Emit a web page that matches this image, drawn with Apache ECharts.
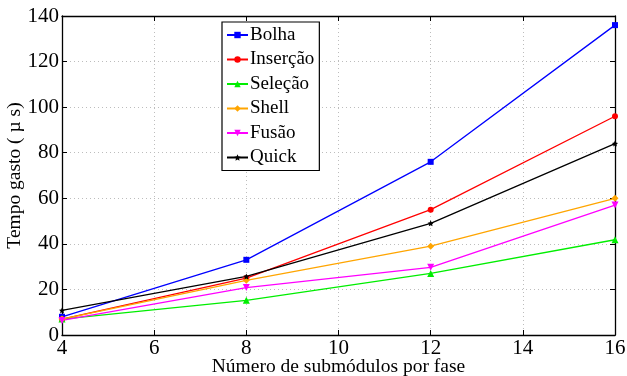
<!DOCTYPE html>
<html>
<head>
<meta charset="utf-8">
<script src="https://cdn.jsdelivr.net/npm/echarts@6/dist/echarts.min.js"></script>
<style>
  html, body { margin: 0; padding: 0; background: #fff; }
  #chart { width: 627px; height: 376px; }
</style>
</head>
<body>
<div id="chart"></div>
<script>
// Submodules per phase (x) and measured time in microseconds for each sort
const submodulos = [4, 8, 12, 16];
const bolha    = [8, 33, 76, 136];
const insercao = [7, 25, 55, 96];
const selecao  = [7, 15.2, 27, 41.8];
const shell    = [7, 24, 39, 60];
const fusao    = [6.4, 20.8, 29.7, 57];
const quick    = [10.8, 25.7, 49, 84];

const xTicks = { min: 4, max: 16, interval: 2 };
const yTicks = { min: 0, max: 140, interval: 20 };

const font = 'Liberation Serif, Times New Roman, serif';

const starPath = 'path://M0,-10 L2.9,-4 L9.5,-3.1 L4.7,1.5 L5.9,8.1 L0,5 L-5.9,8.1 L-4.7,1.5 L-9.5,-3.1 L-2.9,-4 Z';

function pts(vals) {
  return submodulos.map((x, i) => [x, vals[i]]);
}

function mk(name, vals, color, symbol, size, rotate) {
  return {
    name: name,
    type: 'line',
    data: pts(vals),
    symbol: symbol,
    symbolSize: size,
    symbolRotate: rotate || 0,
    showAllSymbol: true,
    lineStyle: { color: color, width: 1.3 },
    itemStyle: { color: color },
    emphasis: { disabled: true },
    animation: false,
    z: 3
  };
}

const chart = echarts.init(document.getElementById('chart'), null, { renderer: 'canvas' });

const tickStyle = { show: true, inside: true, length: 5, lineStyle: { color: '#000', width: 1 } };
const gridLine = { show: true, lineStyle: { color: '#bdbdbd', type: [1, 3], width: 1 } };

chart.setOption({
  backgroundColor: '#fff',
  animation: false,
  grid: { left: 62, right: 12, top: 16, bottom: 41, containLabel: false, outerBoundsMode: 'none' },
  legend: {
    orient: 'vertical',
    left: 222,
    top: 22,
    padding: [3, 5, 3, 4],
    itemGap: 4.5,
    itemWidth: 21,
    itemHeight: 8,
    backgroundColor: '#fff',
    borderColor: '#000',
    borderWidth: 1.2,
    textStyle: { fontFamily: font, fontSize: 19, lineHeight: 20, color: '#000', padding: [0, 0, 0, -3] },
    data: ['Bolha', 'Inserção', 'Seleção', 'Shell', 'Fusão', 'Quick']
  },
  xAxis: [
    {
      type: 'value',
      min: xTicks.min, max: xTicks.max, interval: xTicks.interval,
      name: 'Número de submódulos por fase',
      nameLocation: 'middle',
      nameGap: 22,
      nameMoveOverlap: false,
      nameTextStyle: { fontFamily: font, fontSize: 19.5, color: '#000' },
      axisLine: { show: true, onZero: false, lineStyle: { color: '#000', width: 1.3 } },
      axisTick: tickStyle,
      axisLabel: { fontFamily: font, fontSize: 21, color: '#000', margin: 3 },
      splitLine: gridLine
    },
    {
      type: 'value', position: 'top',
      min: xTicks.min, max: xTicks.max, interval: xTicks.interval,
      axisLine: { show: true, onZero: false, lineStyle: { color: '#000', width: 1.3 } },
      axisTick: tickStyle,
      axisLabel: { show: false },
      splitLine: { show: false }
    }
  ],
  yAxis: [
    {
      type: 'value',
      min: yTicks.min, max: yTicks.max, interval: yTicks.interval,
      name: 'Tempo gasto ( µ s)',
      nameLocation: 'middle',
      nameGap: 37,
      nameMoveOverlap: false,
      nameTextStyle: { fontFamily: font, fontSize: 19.5, color: '#000' },
      axisLine: { show: true, onZero: false, lineStyle: { color: '#000', width: 1.3 } },
      axisTick: tickStyle,
      axisLabel: { fontFamily: font, fontSize: 21, color: '#000', margin: 3 },
      splitLine: gridLine
    },
    {
      type: 'value', position: 'right',
      min: yTicks.min, max: yTicks.max, interval: yTicks.interval,
      axisLine: { show: true, onZero: false, lineStyle: { color: '#000', width: 1.3 } },
      axisTick: tickStyle,
      axisLabel: { show: false },
      splitLine: { show: false }
    }
  ],
  series: [
    mk('Bolha', bolha, '#0000ff', 'rect', 6),
    mk('Inserção', insercao, '#ff0000', 'circle', 6),
    mk('Seleção', selecao, '#00ee00', 'triangle', 7),
    mk('Shell', shell, '#ffa500', 'diamond', 7),
    mk('Fusão', fusao, '#ff00ff', 'triangle', 7, 180),
    mk('Quick', quick, '#000000', starPath, 6)
  ]
});
</script>
</body>
</html>
